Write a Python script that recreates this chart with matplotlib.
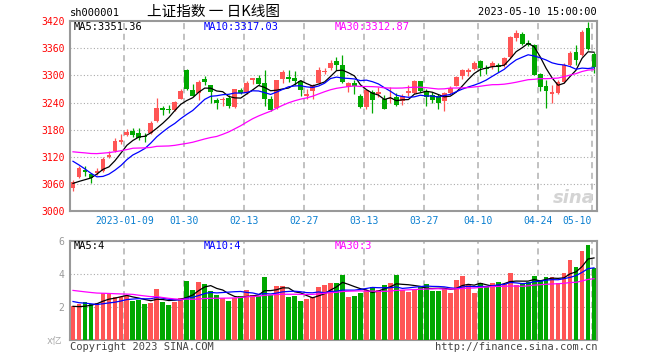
import numpy as np
import pandas as pd
import matplotlib
matplotlib.use('Agg')
import matplotlib.pyplot as plt

plt.rcParams['font.family'] = ['DejaVu Sans Mono', 'Noto Sans CJK SC']

# trading days 2022-12-26 .. 2023-05-10
dates = ['2022-12-26', '2022-12-27', '2022-12-28', '2022-12-29', '2022-12-30',
         '2023-01-03', '2023-01-04', '2023-01-05', '2023-01-06', '2023-01-09',
         '2023-01-10', '2023-01-11', '2023-01-12', '2023-01-13', '2023-01-16',
         '2023-01-17', '2023-01-18', '2023-01-19', '2023-01-20', '2023-01-30',
         '2023-01-31', '2023-02-01', '2023-02-02', '2023-02-03', '2023-02-06',
         '2023-02-07', '2023-02-08', '2023-02-09', '2023-02-10', '2023-02-13',
         '2023-02-14', '2023-02-15', '2023-02-16', '2023-02-17', '2023-02-20',
         '2023-02-21', '2023-02-22', '2023-02-23', '2023-02-24', '2023-02-27',
         '2023-02-28', '2023-03-01', '2023-03-02', '2023-03-03', '2023-03-06',
         '2023-03-07', '2023-03-08', '2023-03-09', '2023-03-10', '2023-03-13',
         '2023-03-14', '2023-03-15', '2023-03-16', '2023-03-17', '2023-03-20',
         '2023-03-21', '2023-03-22', '2023-03-23', '2023-03-24', '2023-03-27',
         '2023-03-28', '2023-03-29', '2023-03-30', '2023-03-31', '2023-04-03',
         '2023-04-04', '2023-04-06', '2023-04-07', '2023-04-10', '2023-04-11',
         '2023-04-12', '2023-04-13', '2023-04-14', '2023-04-17', '2023-04-18',
         '2023-04-19', '2023-04-20', '2023-04-21', '2023-04-24', '2023-04-25',
         '2023-04-26', '2023-04-27', '2023-04-28', '2023-05-04', '2023-05-05',
         '2023-05-08', '2023-05-09', '2023-05-10']

opens = [3051, 3076, 3091, 3082, 3084, 3090, 3119, 3133, 3153, 3168,
         3178, 3172, 3166, 3172, 3200, 3229, 3227, 3223, 3249, 3311,
         3267, 3262, 3292, 3278, 3245, 3245, 3251, 3230, 3268, 3262,
         3290, 3294, 3284, 3248, 3228, 3293, 3297, 3294, 3287, 3255,
         3266, 3283, 3307, 3316, 3332, 3323, 3275, 3284, 3255, 3230,
         3264, 3259, 3247, 3247, 3253, 3243, 3262, 3262, 3287, 3266,
         3256, 3254, 3244, 3262, 3276, 3298, 3307, 3314, 3331, 3316,
         3318, 3322, 3323, 3340, 3382, 3392, 3372, 3368, 3303, 3277,
         3259, 3261, 3286, 3323, 3352, 3345, 3404, 3348]
highs = [3069, 3101, 3101, 3085, 3095, 3120, 3134, 3161, 3170, 3181,
         3183, 3183, 3172, 3200, 3250, 3232, 3235, 3244, 3270, 3314,
         3282, 3290, 3298, 3280, 3251, 3252, 3257, 3271, 3272, 3287,
         3294, 3300, 3312, 3255, 3291, 3311, 3312, 3309, 3291, 3270,
         3282, 3319, 3317, 3334, 3341, 3346, 3286, 3290, 3259, 3271,
         3268, 3275, 3257, 3275, 3261, 3259, 3278, 3291, 3288, 3270,
         3263, 3258, 3263, 3276, 3298, 3315, 3316, 3331, 3334, 3322,
         3332, 3327, 3341, 3388, 3400, 3396, 3378, 3370, 3306, 3291,
         3278, 3290, 3327, 3355, 3367, 3400, 3419, 3352]
lows = [3045, 3073, 3079, 3063, 3080, 3087, 3117, 3132, 3148, 3166,
        3165, 3158, 3154, 3170, 3198, 3212, 3217, 3222, 3248, 3267,
        3254, 3246, 3278, 3240, 3225, 3232, 3229, 3228, 3258, 3258,
        3281, 3278, 3232, 3222, 3226, 3284, 3286, 3279, 3255, 3249,
        3248, 3281, 3304, 3313, 3313, 3283, 3264, 3258, 3228, 3227,
        3218, 3253, 3225, 3240, 3232, 3234, 3254, 3260, 3263, 3232,
        3240, 3227, 3222, 3258, 3276, 3293, 3298, 3312, 3299, 3303,
        3315, 3308, 3319, 3338, 3377, 3367, 3365, 3300, 3266, 3229,
        3240, 3259, 3284, 3320, 3323, 3343, 3357, 3305]
closes = [3065.56, 3095.57, 3087.40, 3073.70, 3089.26, 3116.51, 3123.52, 3155.22, 3157.64, 3176.08,
          3169.51, 3161.84, 3163.45, 3195.31, 3227.59, 3224.41, 3224.24, 3240.28, 3264.81, 3269.32,
          3255.67, 3284.92, 3285.67, 3263.41, 3238.70, 3248.09, 3232.11, 3270.38, 3260.67, 3284.16,
          3293.28, 3280.49, 3249.03, 3224.02, 3290.34, 3306.52, 3291.22, 3287.48, 3267.16, 3258.03,
          3279.61, 3312.35, 3310.65, 3328.39, 3322.03, 3285.10, 3283.25, 3276.09, 3230.08, 3268.70,
          3245.31, 3263.31, 3226.89, 3250.55, 3234.91, 3255.65, 3265.65, 3286.65, 3265.70, 3251.40,
          3245.38, 3240.06, 3261.25, 3272.86, 3296.40, 3312.56, 3312.63, 3327.65, 3315.36, 3313.57,
          3327.18, 3318.36, 3338.15, 3385.61, 3393.33, 3370.13, 3367.03, 3301.26, 3275.41, 3264.87,
          3264.10, 3285.88, 3323.28, 3350.46, 3334.50, 3395.00, 3357.67, 3319.15]
# volume, 亿
volumes = [2.10, 2.20, 2.32, 2.20, 2.26, 2.87, 2.81, 2.63, 2.63, 2.67,
           2.40, 2.46, 2.20, 2.26, 3.11, 2.32, 2.16, 2.32, 2.57, 3.62,
           3.05, 3.52, 3.41, 2.97, 2.77, 2.57, 2.40, 2.57, 2.71, 3.05,
           2.73, 2.69, 3.86, 2.73, 3.31, 3.31, 2.65, 2.71, 2.40, 2.51,
           2.61, 3.23, 3.37, 3.50, 3.47, 3.98, 2.63, 2.69, 2.87, 3.07,
           3.23, 3.07, 3.35, 3.49, 3.98, 3.07, 2.95, 3.11, 3.23, 3.41,
           3.01, 3.01, 3.13, 2.89, 3.66, 3.90, 3.37, 2.89, 3.47, 3.21,
           3.49, 3.56, 3.43, 4.10, 3.37, 3.47, 3.56, 3.92, 3.68, 3.84,
           3.84, 3.49, 4.08, 4.89, 4.44, 5.43, 5.80, 4.40]

# 29 sessions before the window, only used to warm up the moving averages
prior_close = [3134.08, 3119.98, 3115.43, 3097.24, 3085.04, 3088.94, 3096.91, 3089.31,
               3101.69, 3078.55, 3149.75, 3151.34, 3165.47, 3156.14, 3211.81, 3212.53,
               3199.62, 3197.35, 3206.95, 3179.04, 3176.33, 3176.53, 3168.65, 3167.86,
               3107.12, 3073.77, 3068.41, 3054.43, 3045.87]
prior_vol = [3.5, 3.6, 3.4, 3.3, 3.2, 3.2, 3.1, 3.0, 3.0, 2.9, 4.0, 3.5, 3.5, 3.2, 3.9,
             3.6, 3.4, 3.3, 3.2, 3.4, 2.9, 2.6, 2.6, 2.7, 2.4, 2.3, 2.2, 1.9, 1.8]

label_dates = ['2023-01-09', '2023-01-30', '2023-02-13', '2023-02-27', '2023-03-13',
               '2023-03-27', '2023-04-10', '2023-04-24', '2023-05-10']

RED = '#ff5555'
GREEN = '#00a800'
GRID = '#aaaaaa'
SPINE = '#999999'

o, h, l, c = map(np.array, (opens, highs, lows, closes))
v = np.array(volumes)
n = len(dates)
x = np.arange(n)
col = np.where(c >= o, RED, GREEN)


def moving(prior, vals, k):
    s = pd.Series(list(prior) + list(vals)).rolling(k).mean().values
    return s[len(prior):]


ma_c = {k: moving(prior_close, closes, k) for k in (5, 10, 30)}
ma_v = {k: moving(prior_vol, volumes, k) for k in (5, 10, 30)}
ma_col = {5: 'black', 10: '#0000ff', 30: '#ff00ff'}

fig = plt.figure(figsize=(6.6, 3.6), dpi=100)
W, H = 660, 360
ax = fig.add_axes([70 / W, 1 - 211.3 / H, 527 / W, 190.2 / H])
axv = fig.add_axes([70 / W, 1 - 340.3 / H, 527 / W, 99 / H])

line_pos = [dates.index(d) - 0.4 for d in label_dates]

# price panel
for y in range(3060, 3420, 60):
    ax.axhline(y, color=GRID, lw=0.8, ls=(0, (1, 2)), zorder=1)
for p in line_pos:
    ax.axvline(p, color='#b0b0b0', lw=1.1, ls=(0, (4, 3)), zorder=1)

ax.vlines(x, l, h, colors=col, lw=0.9, zorder=3)
body = np.maximum(np.abs(c - o), 1.5)
ax.bar(x, body, bottom=np.minimum(o, c), width=0.8, color=col, zorder=4)
for k in (5, 10, 30):
    ax.plot(x, ma_c[k], color=ma_col[k], lw=0.9, zorder=5)

ax.set_xlim(-0.5, n - 0.5)
ax.set_ylim(3000, 3420)
ax.set_yticks(range(3000, 3421, 60))
ax.set_xticks([])
ax.tick_params(axis='y', length=0, labelcolor='red', labelsize=7, pad=4)

for i, (d, p) in enumerate(zip(label_dates, line_pos)):
    txt = d if i == 0 else d[5:]
    ha = 'right' if i == len(label_dates) - 1 else 'center'
    ax.text(p, -0.05, txt, transform=ax.get_xaxis_transform(), ha=ha, va='center',
            fontsize=7, color='#0a7fd0')

# faint watermark, lower right of the price panel
ax.text(0.955, 0.07, 'sina', transform=ax.transAxes, ha='center', va='center',
        fontsize=13, fontstyle='italic', fontweight='bold', color='#d4d4d4',
        family='DejaVu Sans', zorder=2)

# volume panel
for y in (2, 4):
    axv.axhline(y, color=GRID, lw=0.8, ls=(0, (1, 2)), zorder=1)
for p in line_pos:
    axv.axvline(p, color='#b0b0b0', lw=1.1, ls=(0, (4, 3)), zorder=1)
axv.bar(x, v, width=0.8, color=col, zorder=3)
for k in (5, 10, 30):
    axv.plot(x, ma_v[k], color=ma_col[k], lw=0.9, zorder=5)
axv.set_xlim(-0.5, n - 0.5)
axv.set_ylim(0, 6)
axv.set_yticks([2, 4, 6])
axv.set_xticks([])
axv.tick_params(axis='y', length=0, labelcolor='#999999', labelsize=7, pad=4)

for a in (ax, axv):
    for s in a.spines.values():
        s.set_color(SPINE)
        s.set_linewidth(1.5)


def ftext(px, py, s, **kw):
    fig.text(px / W, 1 - py / H, s, va='center', **kw)


ftext(70, 13, 'sh000001', fontsize=7.5)
ftext(213, 12, '上证指数 一 日K线图', fontsize=10.5, ha='center',
      family=['Noto Sans CJK SC', 'DejaVu Sans'])
ftext(597, 12, dates[-1] + ' 15:00:00', fontsize=7.5, ha='right')

ftext(74, 27, f'MA5:{ma_c[5][-1]:.2f}', fontsize=7.5, color=ma_col[5])
ftext(204, 27, f'MA10:{ma_c[10][-1]:.2f}', fontsize=7.5, color=ma_col[10])
ftext(335, 27, f'MA30:{ma_c[30][-1]:.2f}', fontsize=7.5, color=ma_col[30])

ftext(74, 246, f'MA5:{int(ma_v[5][-1])}', fontsize=7.5, color=ma_col[5])
ftext(204, 246, f'MA10:{int(ma_v[10][-1])}', fontsize=7.5, color=ma_col[10])
ftext(335, 246, f'MA30:{int(ma_v[30][-1])}', fontsize=7.5, color=ma_col[30])

ftext(62, 341, 'x亿', fontsize=7, ha='right', color='#aaaaaa')
ftext(70, 347, 'Copyright 2023 SINA.COM', fontsize=7.5, color='#444444')
ftext(597, 347, 'http://finance.sina.com.cn', fontsize=7.5, ha='right', color='#444444')

fig.savefig('out.png', dpi=100)
